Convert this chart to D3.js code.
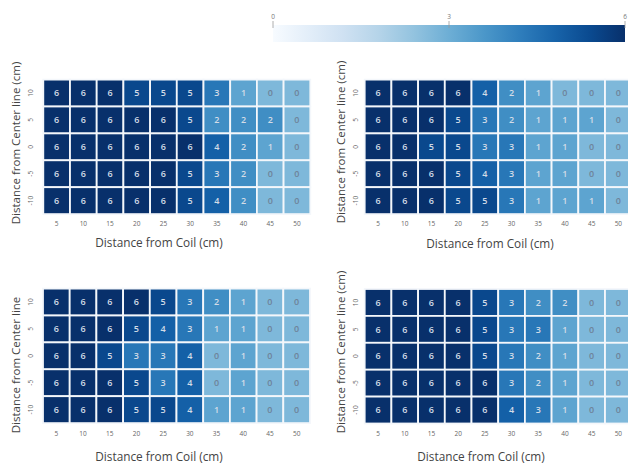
<!DOCTYPE html>
<html>
<head>
<meta charset="utf-8">
<script src="https://cdn.jsdelivr.net/npm/d3@7"></script>
<style>
  html, body { margin: 0; padding: 0; background: #fff; }
  svg { display: block; }
  text { font-family: "Open Sans", "DejaVu Sans", sans-serif; }
</style>
</head>
<body>
<svg id="chart" width="628" height="465"></svg>
<script>
// Distance from coil (columns) and from the centre line (rows, top to bottom)
const coilDistances = [5, 10, 15, 20, 25, 30, 35, 40, 45, 50];
const centerDistances = [10, 5, 0, -5, -10];
const colorbarTicks = [0, 3, 6];

// Heat-map values, one array per panel, rows ordered 10 .. -10
const panelTopLeft = [
  [6, 6, 6, 5, 5, 5, 3, 1, 0, 0],
  [6, 6, 6, 6, 6, 5, 2, 2, 2, 0],
  [6, 6, 6, 6, 6, 6, 4, 2, 1, 0],
  [6, 6, 6, 6, 6, 5, 3, 2, 0, 0],
  [6, 6, 6, 6, 6, 5, 4, 2, 0, 0]
];
const panelTopRight = [
  [6, 6, 6, 6, 4, 2, 1, 0, 0, 0],
  [6, 6, 6, 5, 3, 2, 1, 1, 1, 0],
  [6, 6, 5, 5, 3, 3, 1, 1, 0, 0],
  [6, 6, 6, 5, 4, 3, 1, 1, 0, 0],
  [6, 6, 6, 5, 5, 3, 1, 1, 1, 0]
];
const panelBottomLeft = [
  [6, 6, 6, 6, 5, 3, 2, 1, 0, 0],
  [6, 6, 6, 5, 4, 3, 1, 1, 0, 0],
  [6, 6, 5, 3, 3, 4, 0, 1, 0, 0],
  [6, 6, 6, 5, 3, 4, 0, 1, 0, 0],
  [6, 6, 6, 5, 5, 4, 1, 1, 0, 0]
];
const panelBottomRight = [
  [6, 6, 6, 6, 5, 3, 2, 2, 0, 0],
  [6, 6, 6, 6, 5, 3, 3, 1, 0, 0],
  [6, 6, 6, 6, 5, 3, 2, 1, 0, 0],
  [6, 6, 6, 6, 6, 3, 2, 1, 0, 0],
  [6, 6, 6, 6, 6, 4, 3, 1, 0, 0]
];

const xTitle = "Distance from Coil (cm)";
const yTitleFull = "Distance from Center line (cm)";
const yTitleShort = "Distance from Center line";

const svg = d3.select("#chart");

// Cell colours: upper part of the Blues ramp
const cellColor = d3.scaleSequential(d3.interpolateBlues).domain([-5, 6]);

// Panel layout
const cellW = 26.7, cellH = 26.9;
const panels = [
  { data: panelTopLeft, x0: 43.3, y0: 79.6, clip: [0, 60, 318, 200],
    yTitle: yTitleFull, yTitleX: 16, yTitleY: 143, yTickX: 31,
    xTitleX: 159, xTickY: 226, xTitleY: 247 },
  { data: panelTopRight, x0: 364.7, y0: 79.6, clip: [318, 60, 310, 200],
    yTitle: yTitleFull, yTitleX: 341, yTitleY: 142, yTickX: 356,
    xTitleX: 490, xTickY: 226, xTitleY: 248 },
  { data: panelBottomLeft, x0: 43.0, y0: 288.6, clip: [0, 270, 318, 195],
    yTitle: yTitleShort, yTitleX: 16, yTitleY: 365, yTickX: 31,
    xTitleX: 159, xTickY: 436, xTitleY: 461 },
  { data: panelBottomRight, x0: 364.7, y0: 289.0, clip: [318, 270, 310, 195],
    yTitle: yTitleFull, yTitleX: 341, yTitleY: 352, yTickX: 356,
    xTitleX: 481, xTickY: 436, xTitleY: 461 }
];

const defs = svg.append("defs");

panels.forEach((p, i) => {
  defs.append("clipPath").attr("id", "clip" + i)
    .append("rect")
    .attr("x", p.clip[0]).attr("y", p.clip[1])
    .attr("width", p.clip[2]).attr("height", p.clip[3]);

  const g = svg.append("g").attr("clip-path", `url(#clip${i})`);

  const x = d3.scaleBand().domain(coilDistances)
    .range([p.x0, p.x0 + cellW * coilDistances.length]);
  const y = d3.scaleBand().domain(centerDistances)
    .range([p.y0, p.y0 + cellH * centerDistances.length]);

  const cells = [];
  p.data.forEach((row, r) => row.forEach((v, c) => {
    cells.push({ col: coilDistances[c], row: centerDistances[r], v });
  }));

  g.selectAll("rect.cell").data(cells).join("rect")
    .attr("class", "cell")
    .attr("x", d => x(d.col))
    .attr("y", d => y(d.row))
    .attr("width", x.bandwidth())
    .attr("height", y.bandwidth())
    .attr("fill", d => cellColor(d.v))
    .attr("stroke", "#f4f7fb")
    .attr("stroke-width", 1.8);

  g.selectAll("text.val").data(cells).join("text")
    .attr("class", "val")
    .attr("x", d => x(d.col) + x.bandwidth() / 2)
    .attr("y", d => y(d.row) + y.bandwidth() / 2)
    .attr("dy", "0.36em")
    .attr("text-anchor", "middle")
    .attr("font-size", 9)
    .attr("font-weight", 600)
    .attr("fill", d => d.v <= 0 ? "#6e8399" : "#d3dce7")
    .text(d => d.v);

  // Column tick labels
  g.selectAll("text.xt").data(coilDistances).join("text")
    .attr("class", "xt")
    .attr("x", d => x(d) + x.bandwidth() / 2)
    .attr("y", p.xTickY)
    .attr("text-anchor", "middle")
    .attr("font-size", 6.5)
    .attr("fill", "#666")
    .text(d => d);

  // Row tick labels, rotated
  g.selectAll("text.yt").data(centerDistances).join("text")
    .attr("class", "yt")
    .attr("transform", d => `translate(${p.yTickX},${y(d) + y.bandwidth() / 2}) rotate(-90)`)
    .attr("dy", "0.35em")
    .attr("text-anchor", "middle")
    .attr("font-size", 6.5)
    .attr("fill", "#666")
    .text(d => d);

  g.append("text")
    .attr("x", p.xTitleX).attr("y", p.xTitleY)
    .attr("text-anchor", "middle")
    .attr("font-size", 11.8)
    .attr("fill", "#444")
    .text(xTitle);

  g.append("text")
    .attr("transform", `translate(${p.yTitleX},${p.yTitleY}) rotate(-90)`)
    .attr("dy", "0.35em")
    .attr("text-anchor", "middle")
    .attr("font-size", 11.5)
    .attr("fill", "#444")
    .text(p.yTitle);
});

// Shared colour bar
const cbX0 = 273, cbX1 = 625, cbY = 25, cbH = 17;
const cbScale = d3.scaleLinear().domain([0, 6]).range([cbX0, cbX1]);
const grad = defs.append("linearGradient").attr("id", "cbGrad")
  .attr("x1", "0%").attr("x2", "100%").attr("y1", "0%").attr("y2", "0%");
d3.range(0, 1.0001, 0.1).forEach(t => {
  grad.append("stop").attr("offset", (t * 100) + "%")
    .attr("stop-color", d3.interpolateBlues(t));
});
svg.append("rect")
  .attr("x", cbX0).attr("y", cbY)
  .attr("width", cbX1 - cbX0).attr("height", cbH)
  .attr("fill", "url(#cbGrad)");

svg.selectAll("line.cbt").data(colorbarTicks).join("line")
  .attr("class", "cbt")
  .attr("x1", d => cbScale(d)).attr("x2", d => cbScale(d))
  .attr("y1", 21).attr("y2", 28)
  .attr("stroke", "#999").attr("stroke-width", 0.8);

svg.selectAll("text.cbl").data(colorbarTicks).join("text")
  .attr("class", "cbl")
  .attr("x", d => cbScale(d)).attr("y", 19)
  .attr("text-anchor", "middle")
  .attr("font-size", 6.5)
  .attr("fill", "#777")
  .text(d => d);
</script>
</body>
</html>
